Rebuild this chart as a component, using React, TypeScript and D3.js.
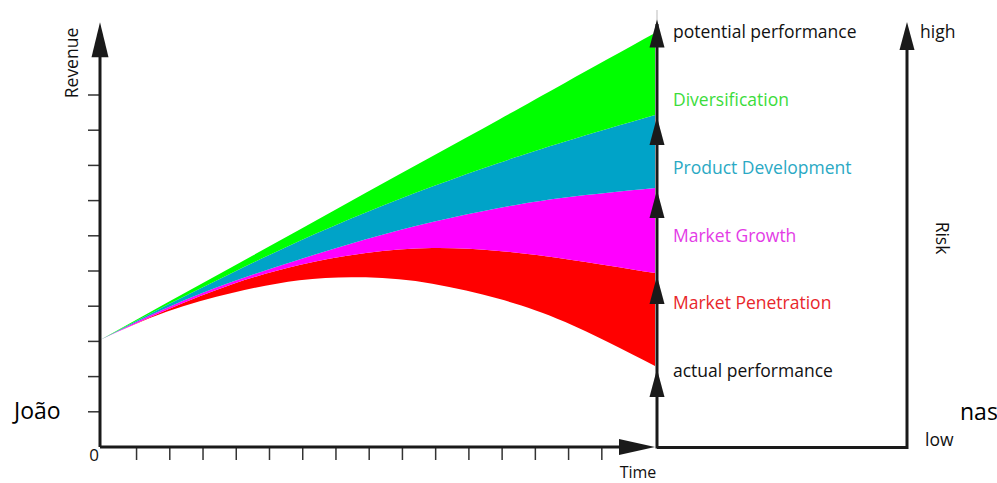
import * as d3 from 'd3';
import React from 'react';

// time samples (x) and the five band boundaries (revenue)
const time = [0, 2, 4, 6, 8, 10, 12, 14, 16.7];
const actual = [3.04, 3.84, 4.38, 4.74, 4.82, 4.64, 4.21, 3.55, 2.3];
const penetration = [3.04, 3.89, 4.63, 5.17, 5.51, 5.65, 5.57, 5.34, 4.94];
const growth = [3.04, 3.95, 4.7, 5.33, 5.9, 6.39, 6.79, 7.09, 7.36];
const development = [3.04, 4.03, 4.96, 5.85, 6.66, 7.4, 8.07, 8.68, 9.43];
const potential = [3.04, 4.09, 5.13, 6.17, 7.22, 8.26, 9.3, 10.35, 11.76];

const bandColors = ['#ff0000', '#ff00ff', '#00a3c8', '#00ff00'];
const rightLabels = ['actual performance', 'Market Penetration', 'Market Growth', 'Product Development', 'Diversification', 'potential performance'];
const labelColors = ['#111111', '#e8262b', '#e33be6', '#2aa9c4', '#3bdc3b', '#111111'];

const yTicks = d3.range(1, 11);
const xTicks = d3.range(1, 16).map(k => k + 0.1);

const W = 997;
const H = 483;
const FONT = '"Open Sans", "Noto Sans", sans-serif';

const arrow = (tx: number, ty: number, dir: 'up' | 'right', len: number, half: number) => {
  if (dir === 'up') return `M${tx},${ty}L${tx - half},${ty + len}L${tx + half},${ty + len}Z`;
  return `M${tx},${ty}L${tx - len},${ty - half}L${tx - len},${ty + half}Z`;
};

const App = () => {
  const x = d3.scaleLinear().domain([0, 16.7]).range([100, 655]);
  const y = d3.scaleLinear().domain([0, 12]).range([447, 24.6]);

  const boundaries = [actual, penetration, growth, development, potential];

  const bands = bandColors.map((c, k) => {
    const lo = boundaries[k];
    const hi = boundaries[k + 1];
    const gen = d3.area<number>()
      .x((_, i) => x(time[i]))
      .y0((_, i) => y(lo[i]))
      .y1((_, i) => y(hi[i]))
      .curve(d3.curveNatural);
    return <path key={c} d={gen(time) || ''} fill={c} />;
  });

  const last = time.length - 1;
  const axisX = x(time[last]) + 2;
  const ends = boundaries.map(b => y(b[last]));
  // labels evenly spaced up the right axis
  const labelY = rightLabels.map((_, i) => y(2.16 + i * 1.926));
  const arrowTips = [ends[0] + 3, ends[1] + 3, ends[2] + 2, ends[3] + 2, y(11.92) - 8];

  return (
    <svg width={W} height={H} style={{ position: 'absolute', left: 0, top: 0 }} fontFamily={FONT}>
      <rect width={W} height={H} fill="#fff" />
      {bands}

      {/* left revenue axis */}
      {yTicks.map(t => (
        <line key={'y' + t} x1={88} x2={100} y1={y(t)} y2={y(t)} stroke="#333" strokeWidth={1.5} />
      ))}
      {xTicks.map(t => (
        <line key={'x' + t} x1={x(t)} x2={x(t)} y1={447} y2={460} stroke="#333" strokeWidth={1.5} />
      ))}
      <line x1={100} x2={100} y1={447} y2={50} stroke="#1a1a1a" strokeWidth={3} />
      <path d={arrow(100, y(12.07), 'up', 35, 8.5)} fill="#1a1a1a" />
      <line x1={100} x2={625} y1={447} y2={447} stroke="#1a1a1a" strokeWidth={3} />
      <path d={arrow(655, 447, 'right', 36, 8)} fill="#1a1a1a" />

      {/* right performance axis */}
      <line x1={axisX} x2={axisX} y1={10} y2={448.5} stroke="#bbb" strokeWidth={1} />
      <line x1={axisX} x2={axisX} y1={24} y2={448.5} stroke="#1a1a1a" strokeWidth={3} />
      {arrowTips.map((t, i) => (
        <path key={'a' + i} d={arrow(axisX, t, 'up', 28, 7.5)} fill="#1a1a1a" />
      ))}

      {/* risk axis */}
      <path d={`M${axisX},447.5H907V48`} fill="none" stroke="#1a1a1a" strokeWidth={3} />
      <path d={arrow(907, 22, 'up', 28, 7.5)} fill="#1a1a1a" />

      {rightLabels.map((l, i) => (
        <text key={l} x={673} y={labelY[i]} dy="0.35em" fontSize={17.5} fill={labelColors[i]}>
          {l}
        </text>
      ))}

      <text x={920} y={32} dy="0.35em" fontSize={17.5} fill="#111">high</text>
      <text x={925} y={440} dy="0.35em" fontSize={17.5} fill="#111">low</text>
      <text transform="translate(936,238) rotate(90)" textAnchor="middle" fontSize={17.5} fill="#111">Risk</text>
      <text transform="translate(78,63) rotate(-90)" textAnchor="middle" fontSize={17.5} fill="#111">Revenue</text>
      <text x={94} y={455} dy="0.35em" textAnchor="middle" fontSize={17} fill="#111">0</text>
      <text x={638} y={473} dy="0.33em" textAnchor="middle" fontSize={16} fill="#111">Time</text>

      <text x={14} y={411} dy="0.35em" fontSize={23} fill="#000">João</text>
      <text x={960} y={412} dy="0.35em" fontSize={23} fill="#000">nas</text>
    </svg>
  );
};

export default App;
